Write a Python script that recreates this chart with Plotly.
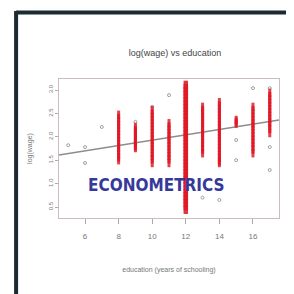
import plotly.graph_objects as go

# ---- data ----
title_text = "log(wage) vs education"
x_title = "education (years of schooling)"
y_title = "log(wage)"
x_ticks = [6, 8, 10, 12, 14, 16]
y_ticks = [3.0, 2.5, 2.0, 1.5, 1.0, 0.5]
y_tick_labels = ["3.0", "2.5", "2.0", "1.5", "1.0", "0.5"]

lw_08 = [2.47, 2.40, 2.33, 2.26, 2.19, 2.12, 2.05, 1.98, 1.91, 1.84, 1.77, 1.70, 1.63, 1.56, 1.50]
lw_09 = [2.21, 2.15, 2.09, 2.03, 1.97, 1.91, 1.85, 1.80, 1.76]
lw_10 = [2.57, 2.50, 2.43, 2.36, 2.29, 2.22, 2.15, 2.08, 2.01, 1.94, 1.87, 1.80, 1.73, 1.66, 1.59, 1.52, 1.44]
lw_11 = [2.29, 2.22, 2.15, 2.08, 2.01, 1.94, 1.87, 1.80, 1.73, 1.66, 1.59, 1.52, 1.44]
lw_12 = [3.11, 3.04, 2.97, 2.90, 2.83, 2.76, 2.69, 2.62, 2.55, 2.48, 2.41, 2.34, 2.27, 2.20,
         2.13, 2.06, 1.99, 1.92, 1.85, 1.78, 1.71, 1.64, 1.57, 1.50, 1.43, 1.36, 1.29, 1.22,
         1.15, 1.08, 1.01, 0.94, 0.87, 0.80, 0.73, 0.66, 0.59, 0.52, 0.44]
lw_13 = [2.64, 2.57, 2.50, 2.43, 2.36, 2.29, 2.22, 2.15, 2.08, 2.01, 1.94, 1.87, 1.80, 1.73, 1.65]
lw_14 = [2.74, 2.67, 2.60, 2.53, 2.46, 2.39, 2.32, 2.25, 2.18, 2.11, 2.04, 1.97, 1.90, 1.83,
         1.76, 1.69, 1.62, 1.55, 1.48, 1.44]
lw_15 = [2.36, 2.32, 2.28]
lw_16 = [2.64, 2.57, 2.50, 2.43, 2.36, 2.29, 2.22, 2.15, 2.08, 2.01, 1.94, 1.87, 1.80, 1.73, 1.65]
lw_17 = [2.94, 2.87, 2.80, 2.73, 2.66, 2.59, 2.52, 2.45, 2.38, 2.31, 2.24, 2.17, 2.08]

red_groups = {8: lw_08, 9: lw_09, 10: lw_10, 11: lw_11, 12: lw_12,
              13: lw_13, 14: lw_14, 15: lw_15, 16: lw_16, 17: lw_17}

grey_educ = [5, 6, 6, 7, 9, 10, 11, 12, 14, 15, 15, 16, 17, 17, 17, 13, 12]
grey_lwage = [1.82, 1.78, 1.44, 2.21, 2.32, 2.64, 2.89, 3.15, 0.65, 1.50, 1.93, 3.04, 3.04, 1.78, 1.29, 0.70, 0.40]

fit_educ = [4.45, 17.55]
fit_lwage = [1.61, 2.36]

watermark = "ECONOMETRICS"

# ---- figure ----
red_x, red_y, red_w = [], [], []
for e, vals in red_groups.items():
    red_x += [e] * len(vals)
    red_y += vals
    red_w += [4.5 if e == 12 else 3] * len(vals)

fig = go.Figure()
fig.add_trace(go.Scatter(x=fit_educ, y=fit_lwage, mode="lines",
                         line=dict(color="#8c8c8c", width=1.5), hoverinfo="skip"))
fig.add_trace(go.Scatter(x=grey_educ, y=grey_lwage, mode="markers",
                         marker=dict(symbol="circle-open", size=3, color="#a0a0a0",
                                     line=dict(width=1)), hoverinfo="skip"))
fig.add_trace(go.Scatter(x=red_x, y=red_y, mode="markers",
                         marker=dict(symbol="line-ns", size=6,
                                     line=dict(width=red_w, color="rgba(225,22,35,0.82)")),
                         hoverinfo="skip"))

grey_font = dict(family="Liberation Sans, Arial, sans-serif", color="#777777")

fig.update_layout(
    width=294, height=294,
    margin=dict(l=51, r=23, t=71, b=84),
    paper_bgcolor="white", plot_bgcolor="white",
    showlegend=False,
    title=dict(text=title_text, x=0.568, xanchor="center", y=0.847, yanchor="middle",
               font=dict(family="Liberation Sans, Arial, sans-serif", size=9, color="#444444")),
    xaxis=dict(range=[4.45, 17.55], tickvals=x_ticks, ticks="outside", ticklen=5,
               ticklabelstandoff=5,
               tickcolor="#aaaaaa", tickfont=dict(size=8, **grey_font), automargin=False,
               showgrid=False, zeroline=False, showline=True, linecolor="#cdbcbc", mirror=True,
               title=dict(text=x_title, font=dict(size=7, **grey_font), standoff=27)),
    yaxis=dict(range=[0.265, 3.235], tickvals=y_ticks, ticktext=y_tick_labels,
               ticks="outside", ticklen=3, tickangle=-90, tickcolor="#aaaaaa",
               tickfont=dict(size=6, **grey_font), automargin=False,
               showgrid=False, zeroline=False, showline=True, linecolor="#cdbcbc", mirror=True,
               title=dict(text=y_title, font=dict(size=7, **grey_font), standoff=14)),
    shapes=[
        dict(type="line", xref="paper", yref="paper", x0=-0.195, x1=1.2, y0=1.478, y1=1.478,
             line=dict(color="#1b2a33", width=4)),
        dict(type="line", xref="paper", yref="paper", x0=-0.195, x1=-0.195, y0=1.49, y1=-0.7,
             line=dict(color="#1b2a33", width=4)),
    ],
    annotations=[
        dict(text="<b>" + watermark + "</b>", xref="paper", yref="paper",
             x=0.445, y=0.235, xanchor="center", yanchor="middle", showarrow=False,
             font=dict(family="DejaVu Sans Condensed, Liberation Sans, sans-serif", size=17,
                       color="#35399a")),
    ],
)

fig.write_html("out.html")
